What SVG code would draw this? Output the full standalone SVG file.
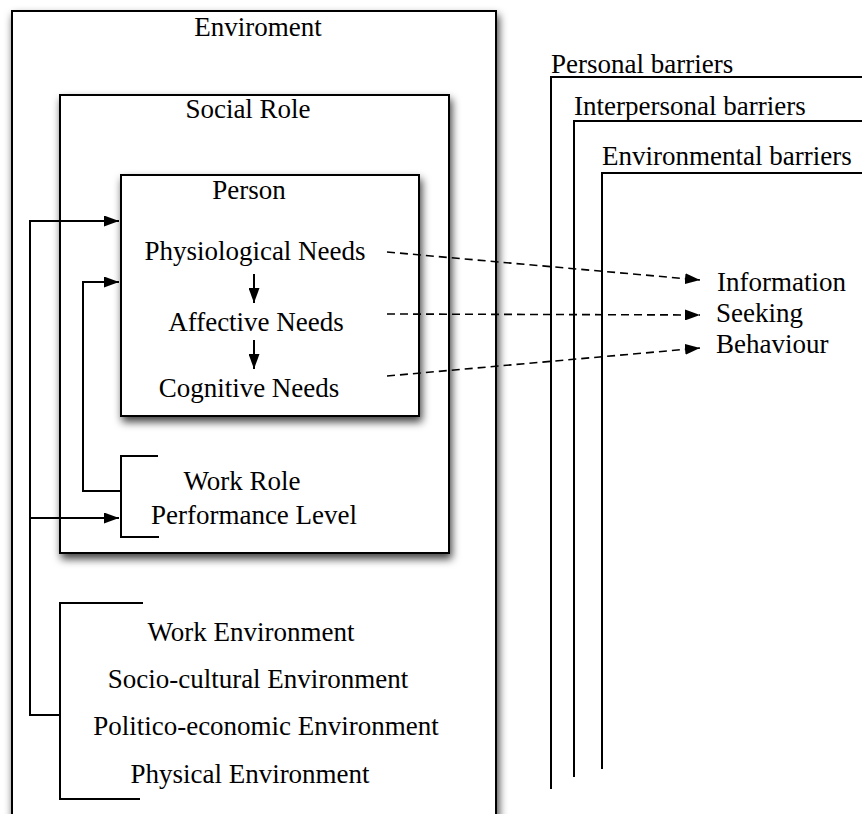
<svg xmlns="http://www.w3.org/2000/svg" width="862" height="814" viewBox="0 0 862 814">
  <style>
    .t { font-family: 'Liberation Serif', 'Times New Roman', 'DejaVu Serif', serif; font-size: 27px; fill: #000; }
    .mid { text-anchor: middle; }
    .box { fill: #fff; stroke: #000; stroke-width: 2; }
    .ln { fill: none; stroke: #000; stroke-width: 2; }
    .dash { fill: none; stroke: #000; stroke-width: 1.6; stroke-dasharray: 8 5; }
  </style>
  <defs>
    <filter id="shadow" x="-10%" y="-10%" width="125%" height="125%">
      <feDropShadow dx="2" dy="5" stdDeviation="4" flood-color="#000" flood-opacity="0.75"/>
    </filter>
    <marker id="head" viewBox="0 0 15 11" refX="15" refY="5.5" markerWidth="15" markerHeight="11" markerUnits="userSpaceOnUse" orient="auto">
      <path d="M0,0 L15,5.5 L0,11 z" fill="#000"/>
    </marker>
  </defs>

  <rect width="862" height="814" fill="#fff"/>

  <g id="environment">
    <rect class="box" x="12" y="11" width="484" height="830" filter="url(#shadow)"/>
    <text class="t mid" x="258" y="36">Enviroment</text>
  </g>

  <g id="social-role">
    <rect class="box" x="60" y="95" width="389" height="458" filter="url(#shadow)"/>
    <text class="t mid" x="248" y="118">Social Role</text>
  </g>

  <g id="person">
    <rect class="box" x="121" y="175" width="298" height="241" filter="url(#shadow)"/>
    <text class="t mid" x="249" y="199">Person</text>
    <text class="t mid" x="255" y="260">Physiological Needs</text>
    <text class="t mid" x="256" y="331">Affective Needs</text>
    <text class="t mid" x="249" y="397">Cognitive Needs</text>
  </g>

  <g id="work-role">
    <path class="ln" d="M158,456 H121 V537 H159"/>
    <text class="t mid" x="242" y="490">Work Role</text>
    <text class="t mid" x="254" y="524">Performance Level</text>
  </g>

  <g id="environment-factors">
    <path class="ln" d="M143,603 H60 V799 H140"/>
    <text class="t mid" x="251" y="641">Work Environment</text>
    <text class="t mid" x="258" y="688">Socio-cultural Environment</text>
    <text class="t mid" x="266" y="735">Politico-economic Environment</text>
    <text class="t mid" x="250" y="783">Physical Environment</text>
  </g>

  <g id="barriers">
    <path class="ln" d="M862,77 H551 V789"/>
    <text class="t" x="551" y="73">Personal barriers</text>
    <path class="ln" d="M862,121 H574 V777"/>
    <text class="t" x="574" y="115">Interpersonal barriers</text>
    <path class="ln" d="M862,173 H602 V769"/>
    <text class="t" x="602" y="165">Environmental barriers</text>
  </g>

  <g id="information-seeking">
    <text class="t" x="717" y="291">Information</text>
    <text class="t" x="716" y="322">Seeking</text>
    <text class="t" x="716" y="353">Behaviour</text>
  </g>

  <g id="connectors">
    <!-- needs hierarchy -->
    <line class="ln" x1="254" y1="274" x2="254" y2="303" marker-end="url(#head)"/>
    <line class="ln" x1="254" y1="340" x2="254" y2="369" marker-end="url(#head)"/>
    <!-- environment feedback into person and work role -->
    <path class="ln" d="M60,715 H30 V221 H119" marker-end="url(#head)"/>
    <line class="ln" x1="30" y1="518" x2="119" y2="518" marker-end="url(#head)"/>
    <!-- work role feedback into person -->
    <path class="ln" d="M121,491 H83 V282 H119" marker-end="url(#head)"/>
    <!-- needs to information seeking behaviour -->
    <line class="dash" x1="387" y1="252" x2="700" y2="280" marker-end="url(#head)"/>
    <line class="dash" x1="387" y1="314" x2="700" y2="315" marker-end="url(#head)"/>
    <line class="dash" x1="387" y1="376" x2="700" y2="348" marker-end="url(#head)"/>
  </g>
</svg>
